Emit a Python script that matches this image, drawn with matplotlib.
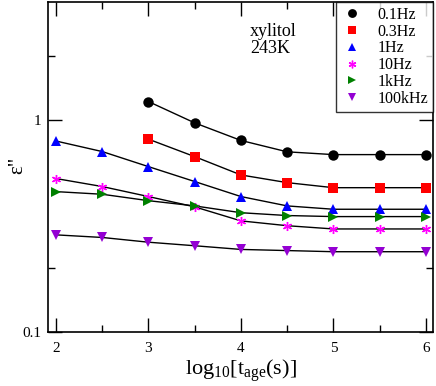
import matplotlib
matplotlib.use('Agg')
import matplotlib.pyplot as plt
from matplotlib.ticker import FixedLocator, NullFormatter

plt.rcParams['font.family'] = ['Liberation Serif', 'DejaVu Serif']
plt.rcParams['mathtext.fontset'] = 'custom'
plt.rcParams['mathtext.rm'] = 'Liberation Serif'
plt.rcParams['mathtext.it'] = 'Liberation Serif'

# log10 of aging time
x_full = [2, 2.5, 3, 3.5, 4, 4.5, 5, 5.5, 6]
x_late = [3, 3.5, 4, 4.5, 5, 5.5, 6]

eps_01hz = [1.22, 0.968, 0.80, 0.707, 0.686, 0.686, 0.686]
eps_03hz = [0.811, 0.671, 0.55, 0.506, 0.479, 0.479, 0.479]
eps_1hz = [0.795, 0.709, 0.602, 0.512, 0.435, 0.393, 0.379, 0.379, 0.379]
eps_10hz = [0.529, 0.485, 0.435, 0.389, 0.334, 0.317, 0.306, 0.306, 0.306]
eps_1khz = [0.459, 0.446, 0.416, 0.393, 0.365, 0.354, 0.350, 0.350, 0.350]
eps_100khz = [0.287, 0.279, 0.265, 0.255, 0.245, 0.242, 0.239, 0.239, 0.239]

series = [
    ('0.1Hz', x_late, eps_01hz, 'black', 'o', 7.5),
    ('0.3Hz', x_late, eps_03hz, 'red', 's', 6.5),
    ('1Hz', x_full, eps_1hz, 'blue', '^', 7.5),
    ('10Hz', x_full, eps_10hz, 'magenta', '*', 6.5),
    ('1kHz', x_full, eps_1khz, 'green', '>', 7.5),
    ('100kHz', x_full, eps_100khz, 'darkviolet', 'v', 7.5),
]

fig = plt.figure(figsize=(4.36, 3.86), dpi=100)
ax = fig.add_axes([0.110, 0.140, 0.883, 0.855])

for label, xs, ys, color, marker, ms in series:
    ax.plot(xs, ys, color='black', linewidth=1, zorder=2)
    if marker == '*':
        ax.plot(xs, ys, linestyle='none', marker=(6, 2, 0), markersize=ms,
                markeredgecolor=color, markeredgewidth=1.0, label=label, zorder=3)
    else:
        ax.plot(xs, ys, linestyle='none', marker=marker, markersize=ms,
                color=color, markeredgewidth=0, label=label, zorder=3)

ax.set_yscale('log')
ax.set_xlim(1.913, 6.076)
ax.set_ylim(0.1, 3.6)

ax.xaxis.set_major_locator(FixedLocator([2, 3, 4, 5, 6]))
ax.xaxis.set_minor_locator(FixedLocator([2.5, 3.5, 4.5, 5.5]))
ax.yaxis.set_major_locator(FixedLocator([0.1, 1]))
ax.yaxis.set_minor_locator(FixedLocator([0.2, 2]))
ax.yaxis.set_minor_formatter(NullFormatter())
ax.set_yticklabels(['0.1', '1'])

ax.tick_params(which='both', direction='in', top=True, right=True, labelsize=11, width=1)
ax.tick_params(which='major', length=10)
ax.tick_params(axis='x', which='major', pad=7)
ax.tick_params(axis='y', which='major', pad=5)
ax.tick_params(which='minor', length=5)
for s in ax.spines.values():
    s.set_linewidth(1.2)

ax.set_xlabel(r'log$_{10}$[t$_{\mathrm{age}}$(s)]', fontsize=16, labelpad=2)
ax.set_ylabel('ε"', fontsize=15)
ax.yaxis.set_label_coords(-0.055, 0.506)

ax.text(0.525, 0.898, 'xylitol', transform=ax.transAxes, fontsize=13)
ax.text(0.525, 0.846, '243K', transform=ax.transAxes, fontsize=13)

leg = ax.legend(loc='upper right', fontsize=11.5, frameon=True, fancybox=False,
                edgecolor='black', borderaxespad=0.0, handlelength=1.4,
                labelspacing=0.05, borderpad=0.3, handletextpad=0.9,
                markerscale=0.85)
leg.get_frame().set_linewidth(1)

fig.savefig('out.png', dpi=100)
